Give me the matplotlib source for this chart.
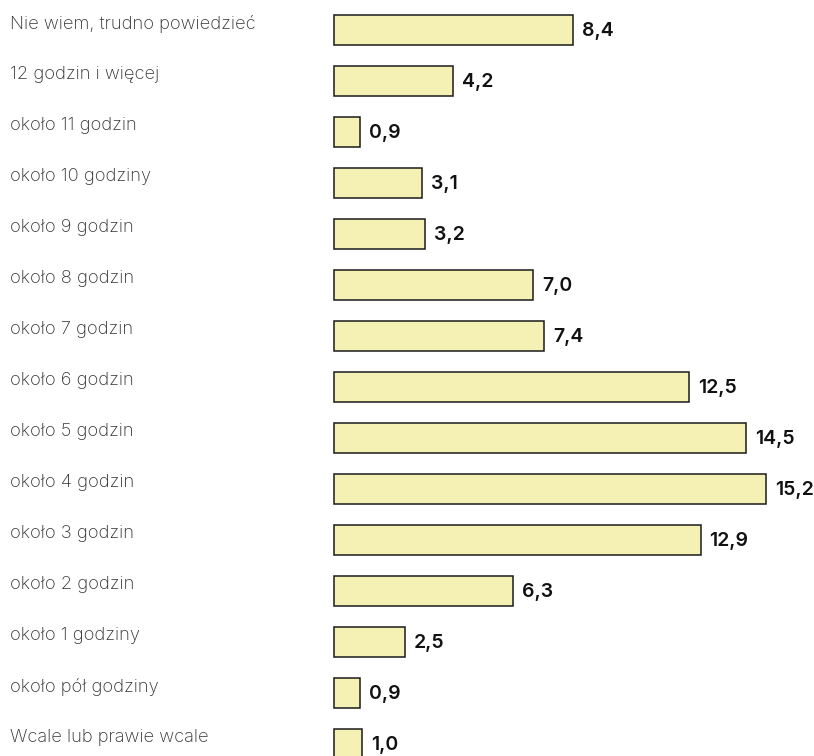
import matplotlib.pyplot as plt
import matplotlib.transforms as mtransforms

categories = ["Nie wiem, trudno powiedzieć", "12 godzin i więcej", "około 11 godzin",
              "około 10 godziny", "około 9 godzin", "około 8 godzin", "około 7 godzin",
              "około 6 godzin", "około 5 godzin", "około 4 godzin", "około 3 godzin",
              "około 2 godzin", "około 1 godziny", "około pół godziny",
              "Wcale lub prawie wcale"]
values = [8.4, 4.2, 0.9, 3.1, 3.2, 7.0, 7.4, 12.5, 14.5, 15.2, 12.9, 6.3, 2.5, 0.9, 1.0]

W, H = 814, 756
fig = plt.figure(figsize=(W / 100, H / 100), dpi=100)
ax = fig.add_axes([0, 0, 1, 1])

# pixel layout: bars start at x=334, 28.42 px per unit, rows 51 px apart from y=30
ppu = 28.42
x0 = 334
ax.set_xlim(-x0 / ppu, (W - x0) / ppu)
ax.set_ylim((H - 30) / 51, -30 / 51)
ax.axis("off")

ypos = list(range(len(values)))
ax.barh(ypos, values, height=0.59, left=0, color="#F5F0B4",
        edgecolor="#1a1a1a", linewidth=1.1)

lab_tr = mtransforms.blended_transform_factory(fig.transFigure, ax.transData)
for y, cat, v in zip(ypos, categories, values):
    ax.text(10 / W, y - 0.12, cat, transform=lab_tr, ha="left", va="center",
            fontsize=13.2, color="#333333", family="Inter", fontweight="light")
    ax.text(v + 9 / ppu, y + 0.02, f"{v:.1f}".replace(".", ","), ha="left",
            va="center", fontsize=14, fontweight="semibold", color="#111111",
            family="Inter")

fig.savefig("out.png", dpi=100)
